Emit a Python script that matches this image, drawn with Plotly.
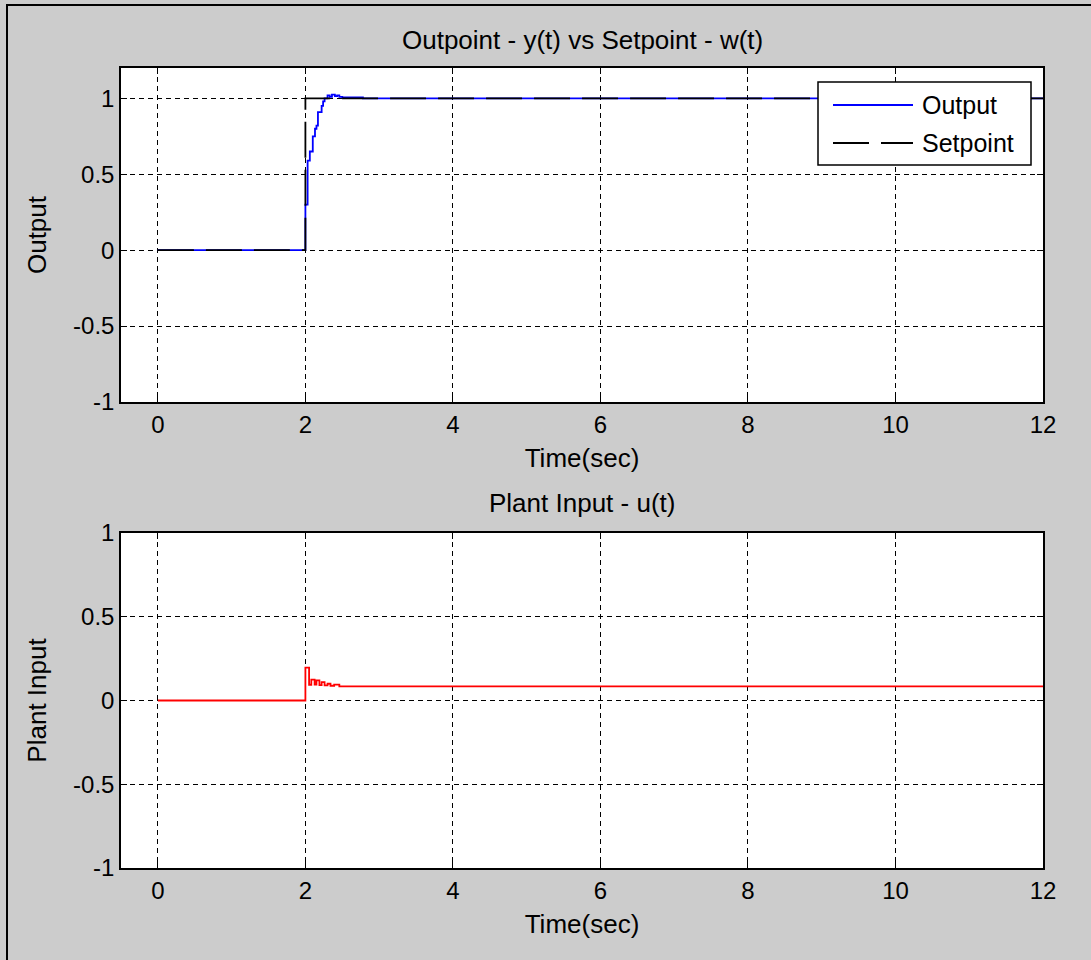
import plotly.graph_objects as go

W, H = 1091, 960

# ---- data ----
t_out = [0, 2.0, 2.03, 2.06, 2.1, 2.13, 2.15, 2.17, 2.22, 2.24, 2.26, 2.3, 2.33, 2.36, 2.4, 2.43, 2.46, 2.5, 2.78, 12]
y_out = [0, 0.30, 0.59, 0.65, 0.75, 0.80, 0.82, 0.91, 0.95, 0.98, 1.0, 1.02, 1.01, 1.025, 1.015, 1.02, 1.01, 1.006, 1.0, 1.0]

t_set = [0, 2.0, 12]
w_set = [0, 1, 1]

t_u = [0, 2.0, 2.05, 2.08, 2.125, 2.15, 2.19, 2.22, 2.26, 2.30, 2.34, 2.39, 2.46, 12]
u_val = [0, 0.196, 0.094, 0.125, 0.095, 0.12, 0.092, 0.11, 0.09, 0.10, 0.088, 0.095, 0.084, 0.084]

x_ticks = [0, 2, 4, 6, 8, 10, 12]
y_ticks = [-1, -0.5, 0, 0.5, 1]
y_tick_text = ["-1", "-0.5", "0", "0.5", "1"]

legend_names = ["Output", "Setpoint"]
legend_colors = ["#0000ff", "#000000"]
legend_dashes = ["solid", "36px,12px"]

FONT = "Liberation Sans, Arial, sans-serif"
BG = "#cccccc"
LW = 1.8


def px_x(p):
    return p / W


def px_y(p):
    return 1 - p / H


fig = go.Figure()

fig.add_trace(go.Scatter(x=t_out, y=y_out, mode="lines", line=dict(color=legend_colors[0], width=LW, shape="hv"),
                         name=legend_names[0], xaxis="x", yaxis="y", showlegend=False))
fig.add_trace(go.Scatter(x=t_set, y=w_set, mode="lines",
                         line=dict(color=legend_colors[1], width=LW, shape="hv", dash=legend_dashes[1]),
                         name=legend_names[1], xaxis="x", yaxis="y", showlegend=False))
fig.add_trace(go.Scatter(x=t_u, y=u_val, mode="lines", line=dict(color="#ff0000", width=LW, shape="hv"),
                         name="Plant Input", xaxis="x2", yaxis="y2", showlegend=False))

axis_common = dict(
    showline=True, linecolor="black", linewidth=1.5, mirror="allticks",
    ticks="inside", ticklen=6, tickcolor="black",
    showgrid=True, gridcolor="black", gridwidth=1, griddash="5px,4px",
    zeroline=False, automargin=False,
    tickfont=dict(family=FONT, size=24, color="black"),
)

xdom = [px_x(121), px_x(1043)]

# custom legend box (MATLAB style, long line samples)
lg_x0, lg_x1, lg_y0, lg_y1 = 818, 1031, 82, 165
legend_shapes = [
    dict(type="rect", xref="paper", yref="paper", x0=px_x(lg_x0), x1=px_x(lg_x1), y0=px_y(lg_y1), y1=px_y(lg_y0),
         fillcolor="white", line=dict(color="black", width=1.5), layer="above"),
]
legend_annots = []
for i, (nm, col, ds) in enumerate(zip(legend_names, legend_colors, legend_dashes)):
    yc = 105 + i * 38
    legend_shapes.append(dict(type="line", xref="paper", yref="paper", x0=px_x(833), x1=px_x(913),
                              y0=px_y(yc), y1=px_y(yc), line=dict(color=col, width=LW, dash=ds), layer="above"))
    legend_annots.append(dict(text=nm, x=px_x(920), y=px_y(yc), xref="paper", yref="paper", showarrow=False,
                              xanchor="left", yanchor="middle", font=dict(size=25)))

fig.update_layout(
    width=W, height=H, autosize=False,
    margin=dict(l=0, r=0, t=0, b=0, pad=0, autoexpand=False),
    paper_bgcolor=BG, plot_bgcolor="white",
    font=dict(family=FONT, size=25, color="black"),
    xaxis=dict(domain=xdom, anchor="y", range=[-0.5, 12], tickvals=x_ticks,
               title=dict(text="Time(sec)", font=dict(size=26), standoff=12), **axis_common),
    yaxis=dict(domain=[px_y(402), px_y(68)], anchor="x", range=[-1, 1.2], tickvals=y_ticks, ticktext=y_tick_text,
               title=dict(text="Output", font=dict(size=26), standoff=19), **axis_common),
    xaxis2=dict(domain=xdom, anchor="y2", range=[-0.5, 12], tickvals=x_ticks,
                title=dict(text="Time(sec)", font=dict(size=26), standoff=12), **axis_common),
    yaxis2=dict(domain=[px_y(868), px_y(533)], anchor="x2", range=[-1, 1], tickvals=y_ticks, ticktext=y_tick_text,
                title=dict(text="Plant Input", font=dict(size=26), standoff=19), **axis_common),
    showlegend=False,
    annotations=[
        dict(text="Outpoint - y(t) vs Setpoint - w(t)", x=px_x(582), y=px_y(40), xref="paper", yref="paper",
             showarrow=False, xanchor="center", yanchor="middle", font=dict(size=26)),
        dict(text="Plant Input - u(t)", x=px_x(582), y=px_y(503), xref="paper", yref="paper",
             showarrow=False, xanchor="center", yanchor="middle", font=dict(size=26)),
    ] + legend_annots,
    shapes=[
        dict(type="line", xref="paper", yref="paper", x0=px_x(7), x1=px_x(7), y0=0, y1=px_y(5),
             line=dict(color="black", width=2)),
        dict(type="line", xref="paper", yref="paper", x0=px_x(6), x1=1, y0=px_y(5), y1=px_y(5),
             line=dict(color="black", width=2)),
    ] + legend_shapes,
)

fig.write_html("out.html")
